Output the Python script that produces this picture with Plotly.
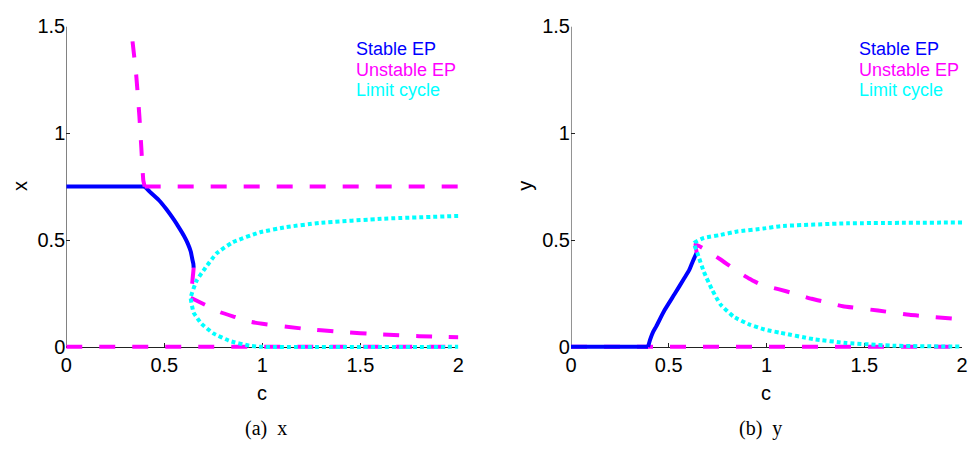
import plotly.graph_objects as go

# ---------------- data ----------------
# Panel (a): x versus c
stable_a_c = [0.0, 0.40, 0.433, 0.474, 0.51, 0.549, 0.575, 0.60, 0.62, 0.635, 0.643, 0.648, 0.65]
stable_a_v = [0.75, 0.75, 0.72, 0.685, 0.645, 0.595, 0.558, 0.52, 0.483, 0.446, 0.41, 0.39, 0.37]

unst_a_top_c = [0.338, 0.357, 0.373, 0.383, 0.393, 0.40]
unst_a_top_v = [1.43, 1.27, 1.08, 0.93, 0.78, 0.75]
unst_a_mid_c = [0.40, 2.0]
unst_a_mid_v = [0.75, 0.75]
unst_a_low_c = [0.65, 0.64, 0.635, 0.705, 0.786, 0.86, 0.94, 1.0, 1.2, 1.4, 1.6, 1.8, 2.0]
unst_a_low_v = [0.37, 0.28, 0.23, 0.198, 0.162, 0.14, 0.117, 0.108, 0.086, 0.07, 0.058, 0.05, 0.045]
unst_a_zero_c = [0.0, 2.0]
unst_a_zero_v = [0.0, 0.0]

lc_a_c = [2.0, 1.62, 1.29, 1.12, 0.987, 0.85, 0.766, 0.71, 0.665, 0.635,
          0.65, 0.69, 0.75, 0.836, 0.937, 1.0, 2.0]
lc_a_v = [0.613, 0.60, 0.58, 0.56, 0.536, 0.49, 0.437, 0.37, 0.31, 0.23,
          0.16, 0.108, 0.063, 0.027, 0.005, 0.0, 0.0]

# Panel (b): y versus c
stable_b_c = [0.0, 0.394, 0.405, 0.42, 0.436, 0.478, 0.529, 0.579, 0.605, 0.621, 0.635, 0.643]
stable_b_v = [0.0, 0.0, 0.035, 0.07, 0.096, 0.171, 0.246, 0.321, 0.36, 0.396, 0.425, 0.441]

unst_b_zero_c = [0.0, 2.0]
unst_b_zero_v = [0.0, 0.0]
unst_b_c = [0.643, 0.636, 0.687, 0.763, 0.833, 0.91, 0.975, 1.06, 1.14, 1.23, 1.30, 1.39, 1.57, 1.73, 2.0]
unst_b_v = [0.441, 0.48, 0.455, 0.41, 0.365, 0.32, 0.29, 0.27, 0.25, 0.225, 0.21, 0.19, 0.17, 0.15, 0.128]

lc_b_c = [2.0, 1.41, 1.07, 0.985, 0.85, 0.76, 0.68, 0.63,
          0.646, 0.68, 0.72, 0.763, 0.833, 0.914, 0.99, 1.07, 1.24, 1.41, 1.66, 2.0]
lc_b_v = [0.582, 0.578, 0.565, 0.554, 0.54, 0.523, 0.51, 0.486,
          0.44, 0.35, 0.27, 0.20, 0.14, 0.104, 0.081, 0.066, 0.036, 0.018, 0.005, 0.001]

x_ticks = [0, 0.5, 1, 1.5, 2]
x_tick_text = ["0", "0.5", "1", "1.5", "2"]
y_ticks = [0, 0.5, 1, 1.5]
y_tick_text = ["0", "0.5", "1", "1.5"]

legend_labels = ["Stable EP", "Unstable EP", "Limit cycle"]
captions = ["(a)  x", "(b)  y"]
y_titles = ["x", "y"]

# ---------------- styles ----------------
BLUE = "#0000FF"
MAG = "#FF00FF"
CYAN = "#00FFFF"
DASH = "16px,17px"
DOT = "4px,3px"
W = 4
AXC = "#222222"

W_PX, H_PX = 979, 451


def px(xp):
    return xp / W_PX


def py(yp):
    return 1 - yp / H_PX


fig = go.Figure()


def add(c, v, color, dash, ax):
    fig.add_trace(go.Scatter(
        x=c, y=v, mode="lines", xaxis=ax[0], yaxis=ax[1],
        line=dict(color=color, width=W, dash=dash, shape="spline", smoothing=0.4),
        cliponaxis=False, showlegend=False, hoverinfo="skip"))


def add_lin(c, v, color, dash, ax):
    fig.add_trace(go.Scatter(
        x=c, y=v, mode="lines", xaxis=ax[0], yaxis=ax[1],
        line=dict(color=color, width=W, dash=dash),
        cliponaxis=False, showlegend=False, hoverinfo="skip"))


A = ("x", "y")
B = ("x2", "y2")

# panel (a)
add_lin(unst_a_zero_c, unst_a_zero_v, MAG, DASH, A)
add_lin(stable_a_c[:2], stable_a_v[:2], BLUE, "solid", A)
add(stable_a_c[1:], stable_a_v[1:], BLUE, "solid", A)
add(unst_a_top_c, unst_a_top_v, MAG, DASH, A)
add_lin(unst_a_mid_c, unst_a_mid_v, MAG, DASH, A)
add_lin(unst_a_low_c[:3], unst_a_low_v[:3], MAG, DASH, A)
add(unst_a_low_c[2:], unst_a_low_v[2:], MAG, DASH, A)
add(lc_a_c, lc_a_v, CYAN, DOT, A)

# panel (b)
add_lin(unst_b_zero_c, unst_b_zero_v, MAG, DASH, B)
add_lin(stable_b_c[:2], stable_b_v[:2], BLUE, "solid", B)
add(stable_b_c[1:], stable_b_v[1:], BLUE, "solid", B)
add(unst_b_c, unst_b_v, MAG, DASH, B)
add(lc_b_c, lc_b_v, CYAN, DOT, B)

FONT = "Liberation Sans, Arial, sans-serif"
tick_common = dict(
    ticks="inside", ticklen=4, tickcolor=AXC, tickwidth=1,
    showgrid=False, zeroline=False, layer="below traces",
    tickfont=dict(family=FONT, size=20, color="black"),
)

# y: 0 sits at 349 px, 1.5 at 16 px (222 px per unit); the plot area is
# extended 5 px below zero so the thick lines on y=0 are not clipped.
Y_BOTTOM_PX = 354
Y_MIN = -(Y_BOTTOM_PX - 349) / 222.0
yd = [py(Y_BOTTOM_PX), py(16)]
x_pos = py(349)

fig.update_layout(
    width=W_PX, height=H_PX, margin=dict(l=0, r=0, t=0, b=0),
    paper_bgcolor="white", plot_bgcolor="white", showlegend=False,
    xaxis=dict(domain=[px(61), px(458)], range=[0, 2], anchor="free", position=x_pos,
               showline=True, linecolor=AXC, linewidth=1,
               tickvals=x_ticks, ticktext=x_tick_text, **tick_common),
    yaxis=dict(domain=yd, range=[Y_MIN, 1.5], anchor="x", showline=False,
               tickvals=y_ticks, ticktext=y_tick_text, **tick_common),
    xaxis2=dict(domain=[px(572), px(968)], range=[0, 2], anchor="free", position=x_pos,
                showline=True, linecolor=AXC, linewidth=1,
                tickvals=x_ticks, ticktext=x_tick_text, **tick_common),
    yaxis2=dict(domain=yd, range=[Y_MIN, 1.5], anchor="x2", showline=False,
                tickvals=y_ticks, ticktext=y_tick_text, **tick_common),
)

# vertical axis lines from 0 to 1.5
for xr, yr in (("x", "y"), ("x2", "y2")):
    fig.add_shape(type="line", xref=xr, yref=yr, x0=0, x1=0, y0=0, y1=1.5,
                  line=dict(color=AXC, width=1), layer="below")

ann = []
# axis titles
for xc in (259, 769):
    ann.append(dict(x=px(xc), y=py(397), text="c", showarrow=False,
                    xref="paper", yref="paper", xanchor="center", yanchor="middle",
                    font=dict(family=FONT, size=20, color="black")))
for xc, t in zip((14, 526), y_titles):
    ann.append(dict(x=px(xc), y=py(182), text=t, showarrow=False, textangle=-90,
                    xref="paper", yref="paper", xanchor="center", yanchor="middle",
                    font=dict(family=FONT, size=20, color="black")))
# legends
for x0 in (352, 862):
    for lab, col, yc in zip(legend_labels, (BLUE, MAG, CYAN), (39, 61, 82)):
        ann.append(dict(x=px(x0), y=py(yc), text=lab, showarrow=False,
                        xref="paper", yref="paper", xanchor="left", yanchor="middle",
                        font=dict(family=FONT, size=18, color=col)))
# captions
for xc, cap in zip((263, 764), captions):
    ann.append(dict(x=px(xc), y=py(434), text=cap.replace("  ", "&nbsp;&nbsp;"),
                    showarrow=False, xref="paper", yref="paper",
                    xanchor="center", yanchor="middle",
                    font=dict(family="Liberation Serif, Times New Roman, serif",
                              size=20, color="black")))
fig.update_layout(annotations=ann)

fig.write_html(
    "out.html",
    config={"displayModeBar": False},
    post_script="document.body.style.margin='0';document.body.style.padding='0';"
                "document.body.style.overflow='hidden';",
)
